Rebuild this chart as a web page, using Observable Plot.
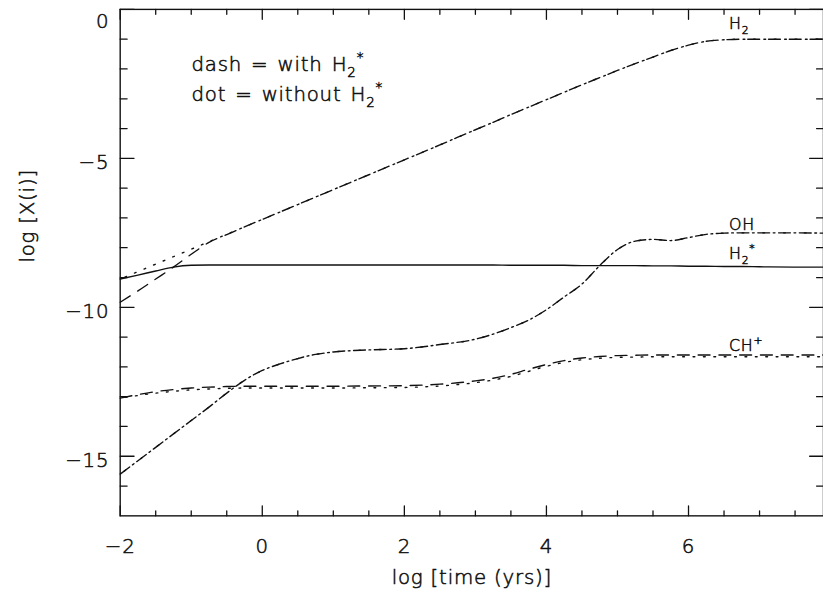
<!DOCTYPE html>
<html>
<head>
<meta charset="utf-8">
<script src="https://cdn.jsdelivr.net/npm/d3@7"></script>
<script src="https://cdn.jsdelivr.net/npm/@observablehq/plot@0.6"></script>
<style>
  html, body { margin: 0; padding: 0; background: #fff; overflow: hidden; }
  #chart { width: 823px; height: 597px; overflow: hidden; }
  #chart svg text { font-weight: 200; letter-spacing: 0.8px; stroke: #111; stroke-width: 0.55px; }
</style>
</head>
<body>
<div id="chart"></div>
<script>
// log time grid (years) shared by all abundance curves
const logTime = [-2, -1.75, -1.5, -1.25, -1, -0.75, -0.5, -0.25, 0, 0.25, 0.5, 0.75, 1, 1.5, 2, 2.5, 3,
  3.25, 3.5, 3.75, 4, 4.25, 4.5, 4.75, 5, 5.25, 5.5, 5.75, 6, 6.25, 6.5, 6.75, 7, 7.5, 7.9];

// H2, model without vibrationally excited H2*
const h2Without = [-9.05, -8.8, -8.55, -8.3, -8.05, -7.8, -7.55, -7.3, -7.05, -6.8, -6.55, -6.3, -6.05,
  -5.55, -5.05, -4.55, -4.04, -3.79, -3.53, -3.28, -3.03, -2.78, -2.53, -2.29, -2.05, -1.82, -1.6, -1.38,
  -1.2, -1.07, -1.02, -1.0, -1.0, -1.0, -1.0];
// H2, model with H2*
const h2With = [-9.83, -9.45, -9.05, -8.65, -8.22, -7.82, -7.56, -7.3, -7.05, -6.8, -6.55, -6.3, -6.05,
  -5.55, -5.05, -4.55, -4.04, -3.79, -3.53, -3.28, -3.03, -2.78, -2.53, -2.29, -2.05, -1.82, -1.6, -1.38,
  -1.2, -1.07, -1.02, -1.0, -1.0, -1.0, -1.0];
// H2* (only present in the model with H2*)
const h2Star = [-9.05, -8.92, -8.78, -8.65, -8.59, -8.58, -8.58, -8.58, -8.58, -8.58, -8.58, -8.58, -8.58,
  -8.58, -8.58, -8.58, -8.58, -8.58, -8.59, -8.59, -8.59, -8.59, -8.6, -8.6, -8.6, -8.6, -8.61, -8.61,
  -8.62, -8.62, -8.63, -8.63, -8.64, -8.65, -8.65];
// OH, identical in both models
const ohBoth = [-15.6, -15.15, -14.7, -14.25, -13.8, -13.35, -12.88, -12.45, -12.12, -11.9, -11.72, -11.58,
  -11.5, -11.43, -11.39, -11.25, -11.07, -10.9, -10.68, -10.43, -10.08, -9.65, -9.22, -8.6, -8.06, -7.78,
  -7.72, -7.76, -7.66, -7.55, -7.51, -7.5, -7.5, -7.5, -7.51];
// CH+, with and without H2*
const chWith = [-13.05, -12.93, -12.83, -12.76, -12.71, -12.68, -12.66, -12.65, -12.65, -12.65, -12.65,
  -12.65, -12.65, -12.64, -12.63, -12.58, -12.47, -12.38, -12.25, -12.08, -11.92, -11.79, -11.7, -11.65,
  -11.62, -11.61, -11.6, -11.6, -11.6, -11.6, -11.6, -11.6, -11.6, -11.6, -11.6];
const chWithout = [-13.05, -12.96, -12.88, -12.82, -12.77, -12.74, -12.72, -12.71, -12.71, -12.71, -12.71,
  -12.71, -12.71, -12.7, -12.69, -12.64, -12.53, -12.44, -12.32, -12.15, -11.98, -11.85, -11.76, -11.71,
  -11.68, -11.67, -11.66, -11.66, -11.66, -11.66, -11.66, -11.66, -11.66, -11.66, -11.66];

// axis ticks
const xMajor = [-2, 0, 2, 4, 6];
const xMinor = [-1.5, -1, -0.5, 0.5, 1, 1.5, 2.5, 3, 3.5, 4.5, 5, 5.5, 6.5, 7, 7.5];
const yMajor = [0, -5, -10, -15];
const yMinor = [-1, -2, -3, -4, -6, -7, -8, -9, -11, -12, -13, -14, -16];

// text
const xTitle = "log [time (yrs)]";
const yTitle = "log [X(i)]";
const legendLines = ["dash = with H2*", "dot = without H2*"];
const speciesNames = ["H2", "OH", "H2*", "CH+"];
const speciesCurves = [h2Without, ohBoth, h2Star, chWith];

const rows = (ys) => logTime.map((t, i) => ({t, v: ys[i]}));

const ink = "#111";
const dashed = "12,9";
const dotted = "1.8,8.7";
const lineW = 1.4;
const fontFamily = "'DejaVu Sans', sans-serif";

const dashLine = (ys) => Plot.line(rows(ys), {x: "t", y: "v", curve: "monotone-x", stroke: ink,
  strokeWidth: lineW, strokeDasharray: dashed});
const dotLine = (ys) => Plot.line(rows(ys), {x: "t", y: "v", curve: "monotone-x", stroke: ink,
  strokeWidth: lineW, strokeDasharray: dotted, strokeDashoffset: 5.4});

// inward tick marks drawn as short vectors from each frame edge
const tickShape = {draw(context, l) { context.moveTo(0, 0); context.lineTo(0, -l); }};
const xTicks = (values, edge, len) => Plot.vector(values, {x: (d) => d, frameAnchor: edge, length: len,
  rotate: edge === "bottom" ? 0 : 180, anchor: "start", shape: tickShape, stroke: ink, strokeWidth: 1.3});
const yTicks = (values, edge, len) => Plot.vector(values, {y: (d) => d, frameAnchor: edge, length: len,
  rotate: edge === "left" ? 90 : -90, anchor: "start", shape: tickShape, stroke: ink, strokeWidth: 1.3});

const fmt = (d) => d < 0 ? "\u2212" + Math.abs(d) : String(d);

// species labels sit just above their curves near log t = 6.5
const labelIndex = logTime.indexOf(6.5);
const labelLift = [-16, -8.5, -12.5, -9];
const speciesMarks = speciesNames.map((name, k) =>
  Plot.text([name], {x: () => logTime[labelIndex], y: () => speciesCurves[k][labelIndex], text: (d) => d,
    textAnchor: "start", dx: 5, dy: labelLift[k], fontSize: 16, fill: ink}));

const plot = Plot.plot({
  width: 832,
  height: 597,
  marginTop: 9,
  marginBottom: 76,
  marginLeft: 121,
  marginRight: 0,
  style: {fontFamily, fontSize: "20px", color: ink, background: "#fff"},
  x: {domain: [-2, 7.9]},
  y: {domain: [-17, 0]},
  marks: [
    Plot.frame({stroke: ink, strokeWidth: 1.4}),
    xTicks(xMajor, "bottom", 10), xTicks(xMinor, "bottom", 5),
    xTicks(xMajor, "top", 10), xTicks(xMinor, "top", 5),
    yTicks(yMajor, "left", 14), yTicks(yMinor, "left", 7),
    yTicks(yMajor, "right", 14), yTicks(yMinor, "right", 7),
    Plot.axisX(xMajor, {anchor: "bottom", tickSize: 0, tickPadding: 23, tickFormat: fmt, fontSize: 20, label: null}),
    Plot.axisY(yMajor.filter((d) => d !== 0), {anchor: "left", tickSize: 0, tickPadding: 11, tickFormat: fmt,
      fontSize: 20, dy: 4, label: null}),
    Plot.axisY([0], {anchor: "left", tickSize: 0, tickPadding: 11, tickFormat: fmt, fontSize: 20, dy: 12, label: null}),
    Plot.text([xTitle], {frameAnchor: "bottom", text: (d) => d, dy: 69, fontSize: 20, fill: ink}),
    Plot.text([yTitle], {frameAnchor: "left", text: (d) => d, rotate: -90, dx: -94, fontSize: 20, fill: ink}),
    Plot.text([legendLines[0]], {frameAnchor: "top-left", text: (d) => d, dx: 72, dy: 48, textAnchor: "start",
      fontSize: 20, fill: ink}),
    Plot.text([legendLines[1]], {frameAnchor: "top-left", text: (d) => d, dx: 72, dy: 78, textAnchor: "start",
      fontSize: 20, fill: ink}),
    // H2 with and without H2*
    dashLine(h2With), dotLine(h2Without),
    // H2* (solid)
    Plot.line(rows(h2Star), {x: "t", y: "v", curve: "monotone-x", stroke: ink, strokeWidth: lineW}),
    // OH
    dashLine(ohBoth), dotLine(ohBoth),
    // CH+
    dashLine(chWith), dotLine(chWithout),
    ...speciesMarks
  ]
});

document.getElementById("chart").appendChild(plot);

// chemical formulae: digits after a letter become subscripts, * and + become superscripts
const richStrings = new Set([...speciesNames, ...legendLines]);
d3.select(plot).selectAll("text").each(function () {
  const s = this.textContent;
  if (!richStrings.has(s)) return;
  const fs = parseFloat(getComputedStyle(this).fontSize) || 20;
  const groups = [];
  for (let i = 0; i < s.length; i++) {
    const c = s[i];
    let kind = "base";
    if (/\d/.test(c) && i > 0 && /[A-Za-z]/.test(s[i - 1])) kind = "sub";
    else if (c === "*" || c === "+") kind = "sup";
    if (groups.length && groups[groups.length - 1].kind === kind) groups[groups.length - 1].text += c;
    else groups.push({kind, text: c});
  }
  const shift = {base: 0, sub: 0.3 * fs, sup: -0.45 * fs};
  const el = d3.select(this);
  if (legendLines.includes(s)) el.style("word-spacing", "2px");
  el.text(null);
  let cur = 0;
  for (const g of groups) {
    const target = shift[g.kind];
    const t = el.append("tspan").attr("dy", target - cur).text(g.text);
    if (g.kind !== "base") t.attr("font-size", 0.68 * fs);
    cur = target;
  }
});
</script>
</body>
</html>
